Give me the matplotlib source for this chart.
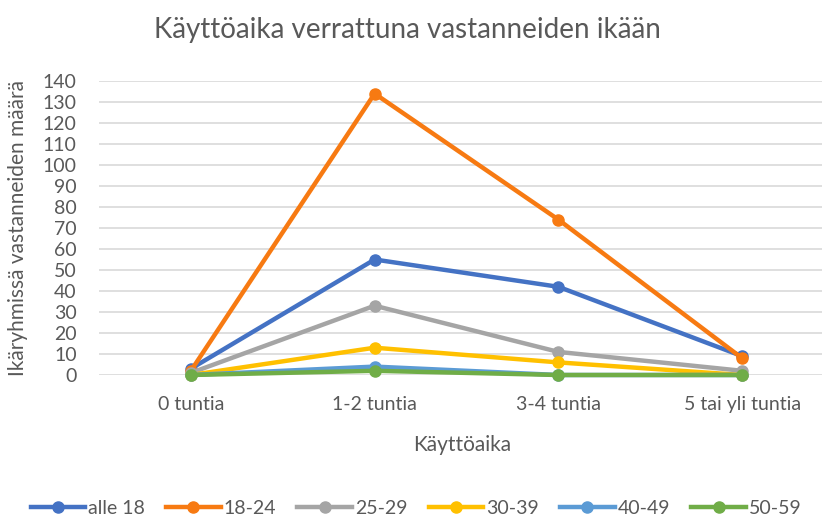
import numpy as np
import matplotlib.pyplot as plt

plt.rcParams['font.family'] = ['Lato', 'DejaVu Sans']

categories = ['0 tuntia', '1-2 tuntia', '3-4 tuntia', '5 tai yli tuntia']
series_names = ['alle 18', '18-24', '25-29', '30-39', '40-49', '50-59']
alle_18 = [3, 55, 42, 9]
v18_24 = [2, 134, 74, 8]
v25_29 = [1, 33, 11, 2]
v30_39 = [0, 13, 6, 0]
v40_49 = [0, 4, 0, 0]
v50_59 = [0, 2, 0, 0]
colors = ['#4472C4', '#F77A12', '#A5A5A5', '#FFC000', '#5B9BD5', '#70AD47']

text_color = '#595959'

fig = plt.figure(figsize=(8.22, 5.21), dpi=100)
ax = fig.add_axes([99 / 822, 146 / 521, 735 / 822, 294 / 521])

x = np.arange(len(categories))
for name, vals, c in zip(series_names, [alle_18, v18_24, v25_29, v30_39, v40_49, v50_59], colors):
    ax.plot(x, vals, color=c, lw=3.2, marker='o', markersize=8, label=name, clip_on=False, zorder=3)

ax.set_xlim(-0.5, 3.5)
ax.set_ylim(0, 140)
ax.set_yticks(np.arange(0, 141, 10))
ax.set_xticks(x)
ax.set_xticklabels(categories)
ax.grid(axis='y', color='#D9D9D9', lw=1.2)
ax.set_axisbelow(True)
for s in ax.spines.values():
    s.set_visible(False)
ax.tick_params(length=0, labelsize=14, labelcolor=text_color)
ax.tick_params(axis='y', pad=16)
ax.tick_params(axis='x', pad=15)

fig.text(407 / 822, 1 - 30 / 521, 'Käyttöaika verrattuna vastanneiden ikään',
         ha='center', va='center', fontsize=20, color=text_color)
fig.text(18 / 822, 1 - 228 / 521, 'Ikäryhmissä vastanneiden määrä', rotation=90,
         ha='center', va='center', fontsize=15, color=text_color)
fig.text(462 / 822, 1 - 445 / 521, 'Käyttöaika', ha='center', va='center',
         fontsize=15, color=text_color)

fig.legend(loc='center', bbox_to_anchor=(416 / 822, 1 - 508 / 521), ncol=6,
           frameon=False, fontsize=14, handlelength=2.8, handletextpad=0.15,
           columnspacing=1.1, labelcolor=text_color)

fig.savefig('out.png', dpi=100)
